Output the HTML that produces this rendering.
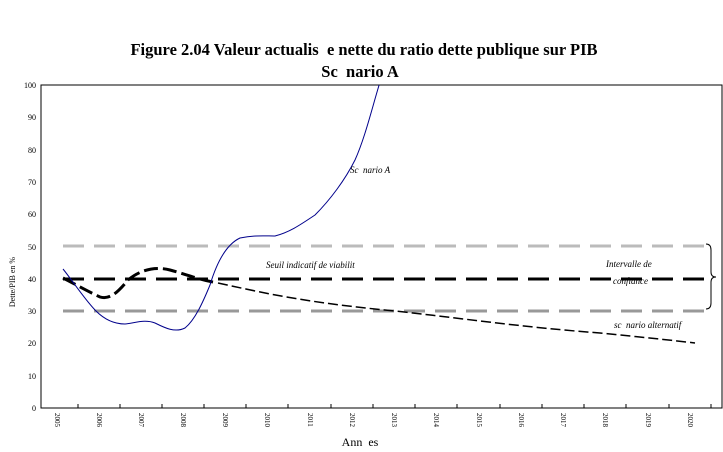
<!DOCTYPE html>
<html><head><meta charset="utf-8"><style>
body{margin:0;background:#fff;}
svg{display:block;font-family:"Liberation Serif",serif;}
text{white-space:pre;}
</style></head><body>
<svg width="723" height="452" viewBox="0 0 723 452" xmlns="http://www.w3.org/2000/svg" xml:space="preserve">
<text x="364" y="55" font-size="16.5" font-weight="bold" text-anchor="middle">Figure 2.04 Valeur actualis  e nette du ratio dette publique sur PIB</text>
<text x="360" y="77" font-size="16.5" font-weight="bold" text-anchor="middle">Sc  nario A</text>
<rect x="41" y="85" width="681" height="323" fill="none" stroke="#000" stroke-width="1"/>
<g font-size="8" text-anchor="end">
<text x="36" y="88">100</text><text x="36" y="120">90</text><text x="36" y="153">80</text><text x="36" y="185">70</text><text x="36" y="217">60</text><text x="36" y="250">50</text><text x="36" y="282">40</text><text x="36" y="314">30</text><text x="36" y="346">20</text><text x="36" y="379">10</text><text x="36" y="411">0</text>
</g>
<g stroke="#000" stroke-width="1">
<line x1="78" y1="404" x2="78" y2="408"/><line x1="120" y1="404" x2="120" y2="408"/><line x1="162" y1="404" x2="162" y2="408"/><line x1="204" y1="404" x2="204" y2="408"/><line x1="246" y1="404" x2="246" y2="408"/><line x1="288" y1="404" x2="288" y2="408"/><line x1="331" y1="404" x2="331" y2="408"/><line x1="373" y1="404" x2="373" y2="408"/><line x1="415" y1="404" x2="415" y2="408"/><line x1="457" y1="404" x2="457" y2="408"/><line x1="500" y1="404" x2="500" y2="408"/><line x1="542" y1="404" x2="542" y2="408"/><line x1="584" y1="404" x2="584" y2="408"/><line x1="626" y1="404" x2="626" y2="408"/><line x1="669" y1="404" x2="669" y2="408"/><line x1="711" y1="404" x2="711" y2="408"/>
</g>
<g font-size="7">
<text transform="translate(55,413) rotate(90)">2005</text><text transform="translate(97,413) rotate(90)">2006</text><text transform="translate(139,413) rotate(90)">2007</text><text transform="translate(181,413) rotate(90)">2008</text><text transform="translate(223,413) rotate(90)">2009</text><text transform="translate(265,413) rotate(90)">2010</text><text transform="translate(308,413) rotate(90)">2011</text><text transform="translate(350,413) rotate(90)">2012</text><text transform="translate(392,413) rotate(90)">2013</text><text transform="translate(434,413) rotate(90)">2014</text><text transform="translate(477,413) rotate(90)">2015</text><text transform="translate(519,413) rotate(90)">2016</text><text transform="translate(561,413) rotate(90)">2017</text><text transform="translate(603,413) rotate(90)">2018</text><text transform="translate(646,413) rotate(90)">2019</text><text transform="translate(688,413) rotate(90)">2020</text>
</g>
<text x="360" y="446" font-size="12" text-anchor="middle">Ann  es</text>
<text transform="translate(15,282) rotate(-90)" font-size="8" text-anchor="middle">Dette/PIB en %</text>
<line x1="63" y1="246" x2="705" y2="246" stroke="#bbb" stroke-width="3" stroke-dasharray="21,10"/>
<line x1="63" y1="279" x2="705" y2="279" stroke="#000" stroke-width="3" stroke-dasharray="21,10"/>
<line x1="63" y1="311" x2="705" y2="311" stroke="#999" stroke-width="3" stroke-dasharray="21,10"/>
<path d="M63,278 C75,284 85,290 100,297 C110,300 118,292 128,280 C140,270 155,266 170,270 C185,274 200,280 218,283" fill="none" stroke="#000" stroke-width="3" stroke-dasharray="14,5"/>
<path d="M218,283 C260,292 300,302 395,311 C460,318 520,327 600,333 C640,337 670,340 695,343" fill="none" stroke="#000" stroke-width="1.5" stroke-dasharray="10,4"/>
<clipPath id="c"><rect x="41" y="85" width="681" height="323"/></clipPath>
<path clip-path="url(#c)" d="M63,269 C72,280 85,300 96,311 C105,320 115,324 125,324 C135,323 145,319 155,323 C165,328 175,333 185,328 C195,320 203,302 210,285 C216,265 225,245 240,238 C255,235 265,236 275,236 C290,232 300,225 315,215 C330,200 345,180 355,160 C365,138 372,108 380,82" fill="none" stroke="#00008b" stroke-width="1"/>
<g font-style="italic" font-size="9">
<text x="350" y="173">Sc  nario A</text>
<text x="266" y="268">Seuil indicatif de viabilit</text>
<text x="606" y="267">Intervalle de</text>
<text x="613" y="284">confiance</text>
<text x="614" y="328">sc  nario alternatif</text>
</g>
<path d="M706,244 Q711,244 711,250 L711,272 Q711,277 716,277 Q711,277 711,282 L711,303 Q711,309 706,309" fill="none" stroke="#000" stroke-width="1"/>
</svg>
</body></html>
